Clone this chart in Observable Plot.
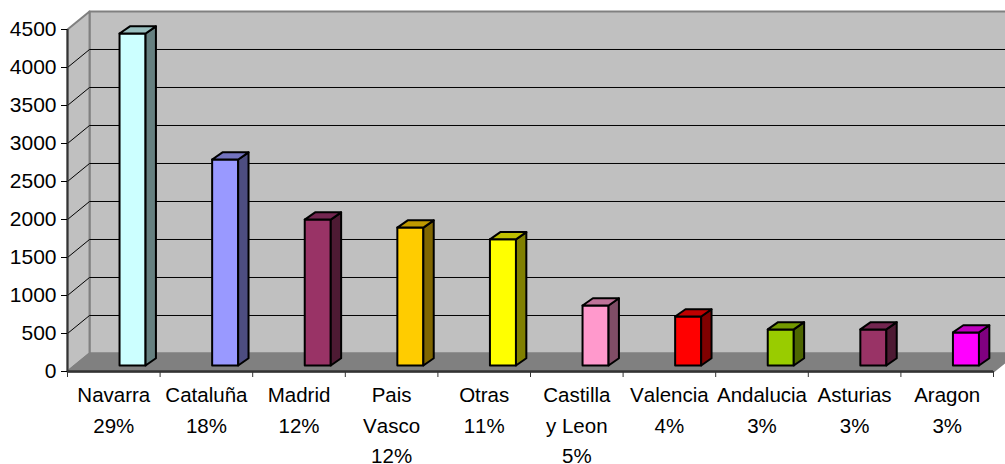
<!DOCTYPE html>
<html><head><meta charset="utf-8">
<script src="https://cdn.jsdelivr.net/npm/d3@7"></script>
<script src="https://cdn.jsdelivr.net/npm/@observablehq/plot@0.6"></script>
<style>html,body{margin:0;padding:0;background:#fff;overflow:hidden}svg{overflow:hidden!important}svg text{font-kerning:none}</style>
</head><body><div id="c"></div>
<script>
const categories=["Navarra","Cataluña","Madrid","Pais\nVasco","Otras","Castilla\ny Leon","Valencia","Andalucia","Asturias","Aragon"];
const percents=["29%","18%","12%","12%","11%","5%","4%","3%","3%","3%"];
const values=[4368,2710,1920,1815,1660,790,645,475,475,435];
const front=["#CCFFFF","#9999FF","#993366","#FFCC00","#FFFF00","#FF99CC","#FF0000","#99CC00","#993366","#FF00FF"];
const side=["#668080","#4D4D80","#4D1A33","#806600","#808000","#804D66","#800000","#4D6600","#4D1A33","#800080"];
const top_=["#99BFBF","#7373BF","#732650","#BF9900","#BFBF00","#BF7399","#BF0000","#739900","#732650","#BF00BF"];
const yTicks=[0,500,1000,1500,2000,2500,3000,3500,4000,4500];
const xTicks=[0,1,2,3,4,5,6,7,8,9,10];

// 3D depth, in data units
const wallDx=0.238, wallDy=237;
const barStart=0.562, barW=0.281, barDx=0.112, barDy=95, barBase=79;

function poly(id,pts,fill){return pts.concat([pts[0]]).map(([x,y])=>({id,x,y,fill}));}
const shapes=[
  ...poly("wallBack",[[wallDx,wallDy],[10+wallDx,wallDy],[10+wallDx,4500+wallDy],[wallDx,4500+wallDy]],"#C0C0C0"),
  ...poly("wallSide",[[0,0],[wallDx,wallDy],[wallDx,4500+wallDy],[0,4500]],"#C0C0C0"),
  ...poly("floor",[[0,0],[10,0],[10+wallDx,wallDy],[wallDx,wallDy]],"#808080")
];
const bars=values.flatMap((v,i)=>{
  const x0=i+barStart,x1=x0+barW,y0=barBase,y1=barBase+v;
  return [
    ...poly("f"+i,[[x0,y0],[x1,y0],[x1,y1],[x0,y1]],front[i]),
    ...poly("s"+i,[[x1,y0],[x1+barDx,y0+barDy],[x1+barDx,y1+barDy],[x1,y1]],side[i]),
    ...poly("t"+i,[[x0,y1],[x1,y1],[x1+barDx,y1+barDy],[x0+barDx,y1+barDy]],top_[i])
  ];
});
const labels=categories.map((c,i)=>({x:i+0.5,text:c+"\n"+percents[i]}));
const font="'Liberation Sans',Arial,sans-serif";
const chart=Plot.plot({
  width:1005,height:464,
  marginLeft:67,marginRight:12,marginTop:29,marginBottom:93,
  style:{background:"#fff",fontFamily:font},
  x:{type:"linear",domain:[0,10],axis:null},
  y:{type:"linear",domain:[0,4500],axis:null},
  marks:[
    Plot.line(shapes,{x:"x",y:"y",z:"id",fill:"fill",stroke:"#808080",strokeWidth:2,curve:"linear"}),
    Plot.link(yTicks.filter(d=>d>0&&d<4500),{x1:0,y1:d=>d,x2:wallDx,y2:d=>d+wallDy,stroke:"#000",strokeWidth:1}),
    Plot.link(yTicks.filter(d=>d>0&&d<4500),{x1:wallDx,y1:d=>d+wallDy,x2:10+wallDx,y2:d=>d+wallDy,stroke:"#000",strokeWidth:1}),
    Plot.line(bars,{x:"x",y:"y",z:"id",fill:"fill",stroke:"#000",strokeWidth:2,strokeLinejoin:"round",curve:"linear"}),
    Plot.ruleX([0],{y1:0,y2:4500,stroke:"#333",strokeWidth:2}),
    Plot.ruleY([0],{x1:0,x2:10,stroke:"#333",strokeWidth:2.5}),
    Plot.axisY({ticks:yTicks,tickSize:6,tickPadding:5,tickFormat:d=>String(d),fontSize:21,stroke:"#000",color:"#000",label:null,anchor:"left"}),
    Plot.ruleX(xTicks,{x:d=>d,y1:0,y2:-79,stroke:"#333",strokeWidth:1}),
    Plot.text(labels,{x:"x",y:0,text:"text",dy:9.5,lineHeight:1.47,lineAnchor:"top",fontSize:20.5,fill:"#000"})
  ]
});
document.getElementById("c").appendChild(chart);
</script></body></html>
